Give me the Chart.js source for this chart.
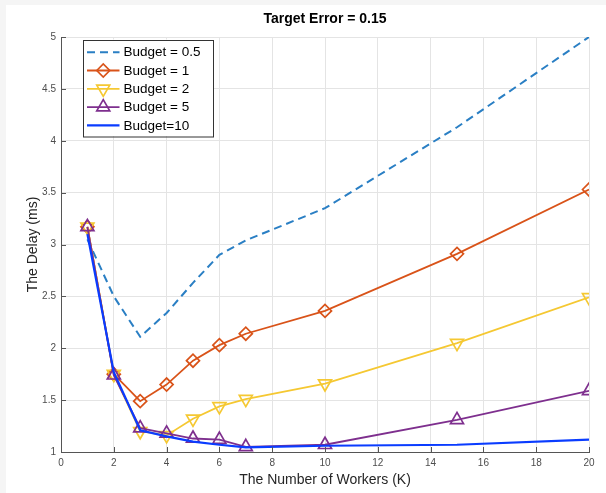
<!DOCTYPE html>
<html>
<head>
<meta charset="utf-8">
<script src="https://cdn.jsdelivr.net/npm/chart.js@4/dist/chart.umd.min.js"></script>
<style>
  html, body { margin: 0; padding: 0; background: #f5f5f5; }
  #wrap { position: absolute; left: 6px; top: 5px; width: 600px; height: 488px; background: #fff; }
</style>
</head>
<body>
<div id="wrap"><canvas id="chart" width="600" height="488"></canvas></div>
<script>
// number of workers K
const workers = [1, 2, 3, 4, 5, 6, 7, 10, 15, 20];

// delay (ms) per budget
const budget05 = [3.05, 2.50, 2.11, 2.34, 2.63, 2.90, 3.04, 3.35, 4.13, 5.00];
const budget1  = [3.17, 1.75, 1.49, 1.65, 1.88, 2.03, 2.14, 2.36, 2.91, 3.53];
const budget2  = [3.17, 1.75, 1.20, 1.16, 1.32, 1.44, 1.51, 1.66, 2.05, 2.49];
const budget5  = [3.17, 1.74, 1.23, 1.18, 1.13, 1.12, 1.05, 1.07, 1.31, 1.59];
const budget10 = [3.10, 1.77, 1.21, 1.15, 1.10, 1.07, 1.045, 1.06, 1.07, 1.12];

const seriesLabels = ['Budget = 0.5', 'Budget = 1', 'Budget = 2', 'Budget = 5', 'Budget=10'];

const xRange = { min: 0, max: 20, step: 2 };
const yRange = { min: 1, max: 5, step: 0.5 };

const FONT = "'Liberation Sans', Arial, Helvetica, sans-serif";

function pts(ys) {
    return workers.map((x, i) => ({ x: x, y: ys[i] }));
}

const series = [
    { label: seriesLabels[0], data: pts(budget05), borderColor: '#2a7fc4', borderWidth: 2, borderDash: [8, 5],
      pointRadius: 0, order: 4, marker: null },
    { label: seriesLabels[1], data: pts(budget1), borderColor: '#d95319', borderWidth: 1.8,
      pointStyle: 'rectRot', pointRadius: 6.5, pointRotation: 0, order: 3, marker: 'diamond' },
    { label: seriesLabels[2], data: pts(budget2), borderColor: '#f5c832', borderWidth: 1.8,
      pointStyle: 'triangle', pointRadius: 7.5, pointRotation: 180, order: 2, marker: 'down' },
    { label: seriesLabels[3], data: pts(budget5), borderColor: '#7e2f8e', borderWidth: 1.8,
      pointStyle: 'triangle', pointRadius: 7.5, pointRotation: 0, order: 1, marker: 'up' },
    { label: seriesLabels[4], data: pts(budget10), borderColor: '#0a3cff', borderWidth: 2.2,
      pointRadius: 0, order: 0, marker: null }
];

const datasets = series.map(s => ({
    label: s.label,
    data: s.data,
    borderColor: s.borderColor,
    borderWidth: s.borderWidth,
    borderDash: s.borderDash || [],
    pointStyle: s.pointStyle || 'circle',
    pointRadius: s.pointRadius,
    pointRotation: s.pointRotation || 0,
    pointBorderColor: s.borderColor,
    pointBackgroundColor: 'rgba(0,0,0,0)',
    pointBorderWidth: 1.7,
    pointHoverRadius: s.pointRadius,
    tension: 0,
    fill: false,
    order: s.order
}));

function drawMarker(ctx, kind, x, y, color) {
    ctx.save();
    ctx.strokeStyle = color;
    ctx.lineWidth = 1.7;
    ctx.setLineDash([]);
    ctx.beginPath();
    if (kind === 'diamond') {
        const r = 6.5;
        ctx.moveTo(x - r, y); ctx.lineTo(x, y - r); ctx.lineTo(x + r, y); ctx.lineTo(x, y + r);
    } else if (kind === 'up' || kind === 'down') {
        const r = 7.5, s = kind === 'up' ? 1 : -1;
        for (let k = 0; k < 3; k++) {
            const a = k * 2 * Math.PI / 3;
            const px = x + Math.sin(a) * r * s;
            const py = y - Math.cos(a) * r * s;
            if (k === 0) ctx.moveTo(px, py); else ctx.lineTo(px, py);
        }
    }
    ctx.closePath();
    ctx.stroke();
    ctx.restore();
}

// title, inner tick marks and boxed legend, drawn like the matlab figure
const figurePlugin = {
    id: 'figure',
    afterDraw(chart) {
        const ctx = chart.ctx;
        const ca = chart.chartArea;
        const xs = chart.scales.x, ys = chart.scales.y;

        // title
        ctx.save();
        ctx.fillStyle = '#000';
        ctx.font = 'bold 14px ' + FONT;
        ctx.textAlign = 'center';
        ctx.textBaseline = 'middle';
        ctx.fillText('Target Error = 0.15', (ca.left + ca.right) / 2, 14);
        ctx.restore();

        // ticks pointing inward
        ctx.save();
        ctx.strokeStyle = '#555';
        ctx.lineWidth = 1;
        ctx.beginPath();
        xs.ticks.forEach(t => {
            const px = Math.round(xs.getPixelForValue(t.value)) + 0.5;
            ctx.moveTo(px, ca.bottom); ctx.lineTo(px, ca.bottom - 5);
        });
        ys.ticks.forEach(t => {
            const py = Math.round(ys.getPixelForValue(t.value)) + 0.5;
            ctx.moveTo(ca.left, py); ctx.lineTo(ca.left + 5, py);
        });
        ctx.stroke();
        ctx.restore();

        // legend
        const bx = ca.left + 22, by = ca.top + 2.5, bw = 130, bh = 96.5;
        ctx.save();
        ctx.fillStyle = '#fff';
        ctx.fillRect(bx, by, bw, bh);
        ctx.strokeStyle = '#333';
        ctx.lineWidth = 1;
        ctx.strokeRect(Math.round(bx) + 0.5, Math.round(by) + 0.5, bw, bh);
        ctx.font = '13.5px ' + FONT;
        ctx.textBaseline = 'middle';
        ctx.textAlign = 'left';
        series.forEach((s, i) => {
            const cy = by + 12.7 + 18.3 * i;
            const x0 = bx + 4, x1 = bx + 36.5;
            ctx.save();
            ctx.strokeStyle = s.borderColor;
            ctx.lineWidth = s.borderWidth;
            ctx.setLineDash(s.borderDash || []);
            ctx.beginPath();
            ctx.moveTo(x0, cy); ctx.lineTo(x1, cy);
            ctx.stroke();
            ctx.restore();
            if (s.marker) drawMarker(ctx, s.marker, (x0 + x1) / 2, cy, s.borderColor);
            ctx.fillStyle = '#000';
            ctx.fillText(s.label, bx + 40.5, cy + 0.5);
        });
        ctx.restore();
    }
};

new Chart(document.getElementById('chart'), {
    type: 'line',
    data: { datasets: datasets },
    options: {
        responsive: false,
        animation: false,
        layout: { padding: { top: 32, right: 17, left: 0, bottom: 0 } },
        plugins: {
            legend: { display: false },
            title: { display: false },
            tooltip: { enabled: false }
        },
        scales: {
            x: {
                type: 'linear',
                min: xRange.min,
                max: xRange.max,
                afterFit: s => { s.height = 41; },
                grid: { color: '#e4e4e4', drawTicks: false },
                border: { color: '#555', width: 1 },
                ticks: { stepSize: xRange.step, padding: 5, color: '#4d4d4d', font: { family: FONT, size: 10 },
                         callback: v => String(v) },
                title: { display: true, text: 'The Number of Workers (K)', color: '#262626',
                         font: { family: FONT, size: 14 }, padding: { top: 0, bottom: 4 } }
            },
            y: {
                min: yRange.min,
                max: yRange.max,
                afterFit: s => { s.width = 55; },
                grid: { color: '#e4e4e4', drawTicks: false },
                border: { color: '#555', width: 1 },
                ticks: { stepSize: yRange.step, padding: 5, color: '#4d4d4d', font: { family: FONT, size: 10 },
                         callback: v => String(Math.round(v * 10) / 10) },
                title: { display: true, text: 'The Delay (ms)', color: '#262626',
                         font: { family: FONT, size: 14 }, padding: { top: 19, bottom: 0 } }
            }
        }
    },
    plugins: [figurePlugin]
});
</script>
</body>
</html>
